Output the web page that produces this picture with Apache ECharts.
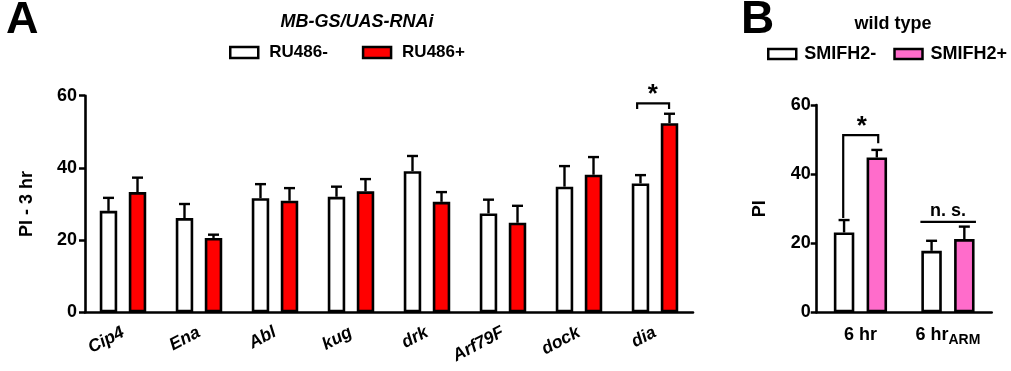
<!DOCTYPE html>
<html><head><meta charset="utf-8">
<script src="https://cdn.jsdelivr.net/npm/echarts@6/dist/echarts.min.js"></script>
<style>html,body{margin:0;padding:0;background:#fff}#c{width:1011px;height:371px}</style>
</head><body><div id="c"></div>
<script>
// ---- Data ----
const genesA = ['Cip4','Ena','Abl','kug','drk','Arf79F','dock','dia'];
const ruMinus = [28.1, 26.1, 31.6, 32.0, 39.1, 27.4, 34.8, 35.7];
const ruMinusErr = [3.6, 3.9, 3.9, 2.8, 4.2, 3.8, 5.7, 2.3];
const ruPlus = [33.3, 20.6, 30.9, 33.5, 30.6, 24.8, 38.1, 52.4];
const ruPlusErr = [4.0, 0.9, 3.5, 3.4, 2.7, 4.7, 4.9, 2.6];
const yTicksA = [0, 20, 40, 60];

const condB = ['6 hr', '6 hrARM'];
const smMinus = [23.1, 17.8];
const smMinusErr = [3.6, 2.9];
const smPlus = [44.8, 21.2];
const smPlusErr = [2.2, 3.6];
const yTicksB = [0, 20, 40, 60];

// significance annotations: [category, bracket level, left leg end, right leg end]
const sigA = [[7, 57.9, 56.3, 56.3]];
const starA = [[7, 60.3]];
const sigB = [[0, 51.3, 27.3, 48.9]];
const starB = [[0, 53.8]];
const nsB = [[1, 26.2]];

// ---- styling ----
const FONT = '"Liberation Sans", Arial, sans-serif';
const BW_A = 0.23, GAP_A = 0.66;
const BW_B = 0.234, GAP_B = 0.60;
const offA = (BW_A + BW_A * GAP_A) / 2;
const offB = (BW_B + BW_B * GAP_B) / 2;

function errSeries(xi, yi, vals, errs, frac) {
  return {
    type: 'custom', xAxisIndex: xi, yAxisIndex: yi, clip: false, z: 1,
    data: vals.map((v, i) => [i, v, v + errs[i]]),
    renderItem: (params, api) => {
      const c = api.coord([api.value(0), api.value(1)]);
      const t = api.coord([api.value(0), api.value(2)]);
      const band = api.size([1, 0])[0];
      const x = c[0] + frac * band;
      return { type: 'group', children: [
        { type: 'line', shape: { x1: x, y1: c[1], x2: x, y2: t[1] }, style: { stroke: '#000', lineWidth: 2.4 } },
        { type: 'line', shape: { x1: x - 5.5, y1: t[1], x2: x + 5.5, y2: t[1] }, style: { stroke: '#000', lineWidth: 2.4 } }
      ]};
    }
  };
}
function bracketSeries(xi, yi, data, lf, rf) {
  return {
    type: 'custom', xAxisIndex: xi, yAxisIndex: yi, clip: false, z: 5,
    data: data,
    renderItem: (params, api) => {
      const band = api.size([1, 0])[0];
      const top = api.coord([api.value(0), api.value(1)]);
      const l = api.coord([api.value(0), api.value(2)]);
      const r = api.coord([api.value(0), api.value(3)]);
      const xl = top[0] + lf * band, xr = top[0] + rf * band;
      return { type: 'polyline', shape: { points: [[xl, l[1]], [xl, top[1]], [xr, top[1]], [xr, r[1]]] },
        style: { stroke: '#000', lineWidth: 2.2, fill: null } };
    }
  };
}
function textSeries(xi, yi, data, txt, size, dx) {
  return {
    type: 'custom', xAxisIndex: xi, yAxisIndex: yi, clip: false, z: 5,
    data: data,
    renderItem: (params, api) => {
      const band = api.size([1, 0])[0];
      const p = api.coord([api.value(0), api.value(1)]);
      return { type: 'text', x: p[0] + dx * band, y: p[1],
        style: { text: txt, fontFamily: FONT, fontWeight: 'bold', fontSize: size, fill: '#000', align: 'center', verticalAlign: 'middle' } };
    }
  };
}
function lineSeries(xi, yi, data, lf, rf) {
  return {
    type: 'custom', xAxisIndex: xi, yAxisIndex: yi, clip: false, z: 5,
    data: data,
    renderItem: (params, api) => {
      const band = api.size([1, 0])[0];
      const p = api.coord([api.value(0), api.value(1)]);
      return { type: 'line', shape: { x1: p[0] + lf * band, y1: p[1], x2: p[0] + rf * band, y2: p[1] }, style: { stroke: '#000', lineWidth: 2.2 } };
    }
  };
}

const axisLbl = { color: '#000', fontFamily: FONT, fontWeight: 'bold', fontSize: 18 };
const barStyle = c => ({ color: c, borderColor: '#000', borderWidth: 2.6 });

const chart = echarts.init(document.getElementById('c'), null, { renderer: 'canvas' });
chart.setOption({
  animation: false,
  backgroundColor: '#fff',
  title: [
    { text: 'A', left: 6, top: -2, padding: 0, textStyle: { fontFamily: FONT, fontWeight: 'bold', fontSize: 45, color: '#000' } },
    { text: 'B', left: 741, top: -3, padding: 0, textStyle: { fontFamily: FONT, fontWeight: 'bold', fontSize: 46, color: '#000' } },
    { text: 'MB-GS/UAS-RNAi', left: 357, top: 13, padding: 0, textAlign: 'center', textStyle: { fontFamily: FONT, fontWeight: 'bold', fontStyle: 'italic', fontSize: 18, color: '#000' } },
    { text: 'wild type', left: 893, top: 15, padding: 0, textAlign: 'center', textStyle: { fontFamily: FONT, fontWeight: 'bold', fontSize: 18, color: '#000' } }
  ],
  legend: [
    { data: ['RU486-', 'RU486+'], left: 229, top: 44, padding: 0, itemWidth: 28, itemHeight: 11, itemGap: 34, icon: 'rect',
      itemStyle: { borderColor: '#000', borderWidth: 2.5 },
      textStyle: { fontFamily: FONT, fontWeight: 'bold', fontSize: 17, color: '#000', padding: [0, 0, 0, 6] } },
    { data: ['SMIFH2-', 'SMIFH2+'], left: 767, top: 45, padding: 0, itemWidth: 28, itemHeight: 10, itemGap: 17, icon: 'rect',
      itemStyle: { borderColor: '#000', borderWidth: 2.5 },
      textStyle: { fontFamily: FONT, fontWeight: 'bold', fontSize: 18, color: '#000', padding: [0, 0, 0, 3] } }
  ],
  grid: [
    { left: 85, right: 318, top: 95.7, bottom: 58.7 },
    { left: 816.7, right: 19.3, top: 105, bottom: 58.7 }
  ],
  xAxis: [
    { type: 'category', gridIndex: 0, data: genesA,
      axisLine: { lineStyle: { color: '#000', width: 2.6 } },
      axisTick: { alignWithLabel: true, length: 6, lineStyle: { color: '#000', width: 2.5 } },
      axisLabel: Object.assign({}, axisLbl, { fontSize: 17.5, fontStyle: 'italic', rotate: 28, margin: 19, interval: 0 }) },
    { type: 'category', gridIndex: 1, data: condB,
      axisLine: { lineStyle: { color: '#000', width: 2.6 } },
      axisTick: { show: false },
      axisLabel: Object.assign({}, axisLbl, { margin: 12, interval: 0,
        formatter: (v, i) => i === 1 ? '{a|6 hr}{s|ARM}' : '{a|' + v + '}',
        rich: { a: { fontFamily: FONT, fontWeight: 'bold', fontSize: 18, color: '#000', lineHeight: 22 },
                s: { fontFamily: FONT, fontWeight: 'bold', fontSize: 14, color: '#000', lineHeight: 22, padding: [10, 0, 0, 0] } } }) }
  ],
  yAxis: [
    { type: 'value', gridIndex: 0, min: yTicksA[0], max: yTicksA[yTicksA.length - 1], interval: 20,
      name: 'PI - 3 hr', nameLocation: 'middle', nameGap: 49, nameRotate: 90,
      nameTextStyle: { fontFamily: FONT, fontWeight: 'bold', fontSize: 18, color: '#000' },
      axisLine: { show: true, lineStyle: { color: '#000', width: 2.6 } },
      axisTick: { show: true, length: 6, lineStyle: { color: '#000', width: 2.5 } },
      splitLine: { show: false }, axisLabel: Object.assign({}, axisLbl, { margin: 8 }) },
    { type: 'value', gridIndex: 1, min: yTicksB[0], max: yTicksB[yTicksB.length - 1], interval: 20,
      name: 'PI', nameLocation: 'middle', nameGap: 48, nameRotate: 90,
      nameTextStyle: { fontFamily: FONT, fontWeight: 'bold', fontSize: 18, color: '#000' },
      axisLine: { show: true, lineStyle: { color: '#000', width: 2.6 } },
      axisTick: { show: true, length: 6, lineStyle: { color: '#000', width: 2.5 } },
      splitLine: { show: false }, axisLabel: Object.assign({}, axisLbl, { margin: 6 }) }
  ],
  series: [
    { name: 'RU486-', type: 'bar', xAxisIndex: 0, yAxisIndex: 0, data: ruMinus, barWidth: (BW_A * 100) + '%', barGap: (GAP_A * 100) + '%', itemStyle: barStyle('#ffffff'), z: 2 },
    { name: 'RU486+', type: 'bar', xAxisIndex: 0, yAxisIndex: 0, data: ruPlus, barWidth: (BW_A * 100) + '%', barGap: (GAP_A * 100) + '%', itemStyle: barStyle('#ff0000'), z: 2 },
    errSeries(0, 0, ruMinus, ruMinusErr, -offA),
    errSeries(0, 0, ruPlus, ruPlusErr, offA),
    bracketSeries(0, 0, sigA, -0.235, 0.185),
    textSeries(0, 0, starA, '*', 26, -0.03),
    { name: 'SMIFH2-', type: 'bar', xAxisIndex: 1, yAxisIndex: 1, data: smMinus, barWidth: (BW_B * 100) + '%', barGap: (GAP_B * 100) + '%', itemStyle: barStyle('#ffffff'), z: 2 },
    { name: 'SMIFH2+', type: 'bar', xAxisIndex: 1, yAxisIndex: 1, data: smPlus, barWidth: (BW_B * 100) + '%', barGap: (GAP_B * 100) + '%', itemStyle: barStyle('#ff6ccb'), z: 2 },
    errSeries(1, 1, smMinus, smMinusErr, -offB),
    errSeries(1, 1, smPlus, smPlusErr, offB),
    bracketSeries(1, 1, sigB, -0.197, 0.203),
    textSeries(1, 1, starB, '*', 26, 0.015),
    lineSeries(1, 1, nsB, -0.315, 0.32),
    textSeries(1, 1, nsB.map(d => [d[0], d[1] + 3.0]), 'n. s.', 18, 0.0)
  ]
});
</script></body></html>
